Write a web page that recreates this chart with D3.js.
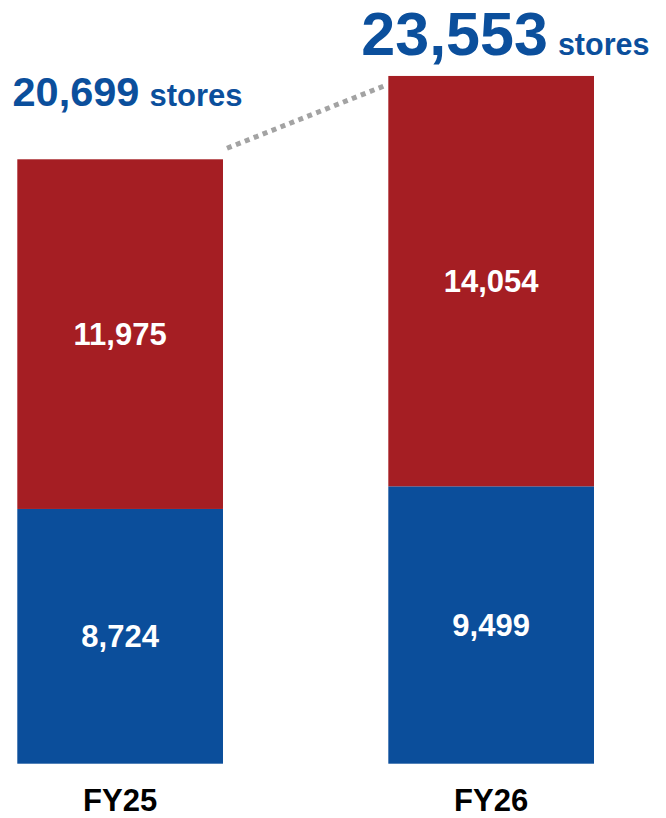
<!DOCTYPE html>
<html>
<head>
<meta charset="utf-8">
<script src="https://cdn.jsdelivr.net/npm/d3@7"></script>
<style>
  html, body { margin: 0; padding: 0; background: #ffffff; }
  svg { display: block; }
  text { font-family: "Liberation Sans", Arial, sans-serif; font-weight: bold; }
</style>
</head>
<body>
<svg id="chart" width="666" height="818"></svg>
<script>
// Store counts by fiscal year
const years = ["FY25", "FY26"];
const lowerSeries = [8724, 9499];     // blue segment
const upperSeries = [11975, 14054];   // red segment
const totals = [20699, 23553];
const unitLabel = "stores";

// Layout
const baseY = 763.7;
const pxPerStore = 0.0292;
const colors = { lower: "#0B4E9B", upper: "#A51E23", total: "#0B4F9C", axis: "#000000", connector: "#A3A3A3" };
// total-label placement: x offset from bar left, baseline y, number size, unit size
const totalLabelLayout = [
  { dx: -4.8, y: 106, big: 41.5, small: 31 },
  { dx: -27, y: 55, big: 61, small: 30.5 }
];

const svg = d3.select("#chart");

const x = d3.scaleBand()
  .domain(years)
  .range([17.3, 594])
  .paddingInner(0.4456)
  .paddingOuter(0);

const yMax = d3.max(totals);
const y = d3.scaleLinear()
  .domain([0, yMax])
  .range([baseY, baseY - yMax * pxPerStore]);

const rows = years.map((yr, i) => ({
  year: yr,
  lower: lowerSeries[i],
  upper: upperSeries[i],
  total: totals[i]
}));

const layers = d3.stack().keys(["lower", "upper"])(rows);
const fmt = d3.format(",");

// Stacked bars
const layerG = svg.selectAll("g.layer")
  .data(layers)
  .join("g")
  .attr("class", "layer")
  .attr("fill", d => colors[d.key]);

layerG.selectAll("rect")
  .data(d => d)
  .join("rect")
  .attr("x", d => x(d.data.year))
  .attr("y", d => y(d[1]))
  .attr("width", x.bandwidth())
  .attr("height", d => y(d[0]) - y(d[1]));

// Segment value labels, centred in each segment
layerG.selectAll("text")
  .data(d => d)
  .join("text")
  .attr("x", d => x(d.data.year) + x.bandwidth() / 2)
  .attr("y", d => (y(d[0]) + y(d[1])) / 2 + 11)
  .attr("text-anchor", "middle")
  .attr("fill", "#ffffff")
  .attr("font-size", 31)
  .text(d => fmt(d[1] - d[0]));

// Dotted connector between bar tops
const p0 = [x(years[0]) + x.bandwidth() + 4, y(totals[0]) - 11];
const p1 = [x(years[1]) - 3, y(totals[1]) + 9.5];
svg.append("line")
  .attr("x1", p0[0]).attr("y1", p0[1])
  .attr("x2", p1[0]).attr("y2", p1[1])
  .attr("stroke", colors.connector)
  .attr("stroke-width", 5)
  .attr("stroke-dasharray", "5,4.6");

// Total labels
const totalText = svg.selectAll("text.total")
  .data(rows)
  .join("text")
  .attr("class", "total")
  .attr("x", (d, i) => x(d.year) + totalLabelLayout[i].dx)
  .attr("y", (d, i) => totalLabelLayout[i].y)
  .attr("fill", colors.total);

totalText.append("tspan")
  .attr("font-size", (d, i) => totalLabelLayout[i].big)
  .text(d => fmt(d.total));
totalText.append("tspan")
  .attr("font-size", (d, i) => totalLabelLayout[i].small)
  .attr("dx", 10)
  .text(unitLabel);

// Category axis (labels only)
const axis = svg.append("g")
  .attr("transform", `translate(0, ${baseY})`)
  .call(d3.axisBottom(x).tickSize(0).tickPadding(0));
axis.select(".domain").remove();
axis.selectAll("text")
  .attr("font-size", 31)
  .attr("font-family", "Liberation Sans, Arial, sans-serif")
  .attr("font-weight", "bold")
  .attr("fill", colors.axis)
  .attr("dy", null)
  .attr("y", 47);
</script>
</body>
</html>
